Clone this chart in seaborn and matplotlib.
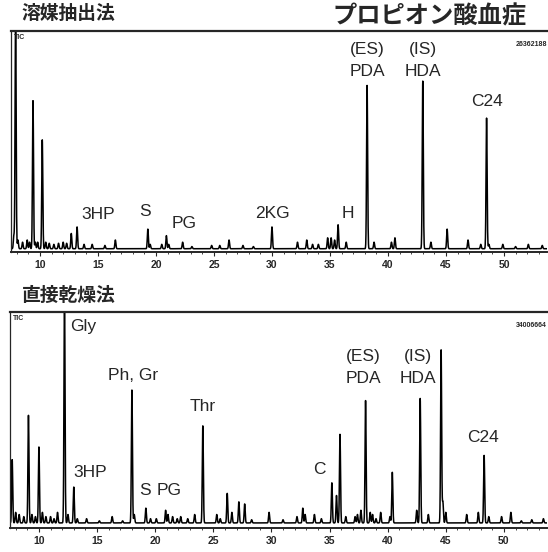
import numpy as np
import pandas as pd
import matplotlib
matplotlib.use("Agg")
import matplotlib.pyplot as plt
import seaborn as sns

# retention time (min) and peak height (% of full scale)
top_rt = [7.75, 7.9, 8.1, 8.5, 8.9, 9.1, 9.4, 9.6, 9.8, 10.2, 10.5, 10.8, 11.2, 11.6,
          12.0, 12.3, 12.7, 13.2, 13.8, 14.5, 15.6, 16.5, 19.3, 19.5, 20.5, 20.9,
          21.1, 22.3, 23.1, 24.8, 25.5, 26.3, 27.5, 28.4, 30.0, 32.2, 33.0, 33.5,
          34.0, 34.8, 35.1, 35.4, 35.7, 36.4, 38.2, 38.8, 40.3, 40.6, 43.0, 43.7,
          45.1, 46.9, 48.0, 48.5, 48.7, 49.9, 51.0, 52.1, 53.3]
top_h = [6, 110, 4, 3, 4, 3, 68, 3, 3, 50, 3, 2.5, 2, 2.5,
         3, 2.5, 7, 10, 2, 2, 1.5, 4, 9, 2, 2, 6,
         2, 3, 1, 1.5, 1.5, 4, 1.5, 1, 10, 3, 4, 2,
         2, 5, 5, 4, 11, 3, 75, 3, 3, 5, 77, 3,
         9, 4, 2, 60, 2, 2, 1, 2, 1.5]

bot_rt = [7.7, 8.0, 8.3, 8.7, 9.1, 9.4, 9.7, 10.0, 10.3, 10.6, 11.0, 11.3, 11.6, 12.2,
          12.5, 13.0, 13.3, 14.1, 15.2, 16.3, 17.2, 18.0, 18.2, 19.2, 19.6, 20.1,
          20.9, 21.1, 21.5, 21.9, 22.2, 22.8, 23.4, 24.1, 25.3, 25.6, 26.2, 26.6,
          27.2, 27.7, 28.3, 29.8, 31.0, 32.2, 32.7, 32.9, 33.7, 34.3, 35.2, 35.6,
          35.9, 36.4, 37.2, 37.4, 37.7, 38.1, 38.5, 38.7, 39.0, 39.4, 40.2, 40.4,
          42.5, 42.8, 43.5, 44.6, 44.75, 45.0, 46.8, 47.8, 48.3, 48.7, 49.8, 50.6,
          51.5, 52.4, 53.4]
bot_h = [30, 5, 4, 3, 51, 4, 3, 36, 5, 3, 3, 2, 5, 110,
         4, 17, 2, 2, 1, 3, 1, 63, 4, 7, 2, 2,
         6, 4, 3, 2, 3, 2, 4, 46, 4, 2, 14, 5,
         10, 9, 1.5, 5, 1.5, 3, 7, 4, 4, 2, 19, 13,
         42, 3, 3, 4, 6, 58, 5, 4, 2, 5, 3, 24,
         6, 59, 4, 82, 10, 5, 4, 5, 32, 3, 3, 5,
         1, 1.5, 2]

# peak labels: text, rt, height
top_labels = [("3HP", 15.0, 15.5), ("S", 19.05, 16.9), ("PG", 22.4, 11.4),
              ("2KG", 30.0, 16.4), ("H", 36.55, 16.4),
              ("(ES)", 38.2, 91.3), ("PDA", 38.2, 81.6),
              ("(IS)", 43.0, 91.3), ("HDA", 43.0, 81.6), ("C24", 48.5, 67.4)]
bot_labels = [("Gly", 13.85, 92.9), ("Ph, Gr", 18.1, 70.1), ("3HP", 14.45, 23.7),
              ("S", 19.1, 15.6), ("PG", 21.2, 15.6), ("Thr", 24.05, 55.4),
              ("C", 34.1, 25.1), ("(ES)", 37.9, 78.7), ("PDA", 37.9, 68.7),
              ("(IS)", 42.6, 78.7), ("HDA", 42.6, 68.7), ("C24", 48.2, 40.7)]

ticks = [10, 15, 20, 25, 30, 35, 40, 45, 50]


def trace(rts, hs, sigma=0.045):
    t = np.arange(7.3, 54.0, 0.01)
    y = np.zeros_like(t)
    for r, h in zip(rts, hs):
        y += h * np.exp(-0.5 * ((t - r) / sigma) ** 2)
    return pd.DataFrame({"rt": t, "abund": y})


sns.set_style("white")
plt.rcParams["font.family"] = ["Liberation Sans", "DejaVu Sans"]
jp = ["Noto Sans CJK JP", "DejaVu Sans"]

fig = plt.figure(figsize=(5.48, 5.52), dpi=100)
ax1 = fig.add_axes([0.020, 0.5435, 0.978, 0.4003])
ax2 = fig.add_axes([0.018, 0.0435, 0.980, 0.3913])


def draw(ax, rts, hs, labels, ylo, total):
    df = trace(rts, hs)
    sns.lineplot(data=df, x="rt", y="abund", ax=ax, color="black", lw=1.1,
                 estimator=None)
    ax.set_xlim(7.5, 53.7)
    ax.set_ylim(ylo, 100)
    ax.set_xticks(ticks)
    ax.set_xticks(np.arange(8, 54, 1), minor=True)
    ax.set_yticks([])
    ax.set_xlabel("")
    ax.set_ylabel("")
    ax.tick_params(axis="x", which="major", length=3, width=0.8, pad=3,
                   labelsize=7.5, direction="out", bottom=True)
    ax.tick_params(axis="x", which="minor", length=1.5, width=0.6, bottom=True)
    for lab in ax.get_xticklabels():
        lab.set_fontweight("bold")
    ax.spines["right"].set_visible(False)
    ax.spines["top"].set_linewidth(1.6)
    ax.spines["bottom"].set_linewidth(1.4)
    ax.spines["left"].set_linewidth(0.9)
    ax.spines["left"].set_linestyle((0, (6, 1)))
    for txt, x, y in labels:
        ax.text(x, y, txt, ha="center", va="center", fontsize=12.5)
    ax.text(0.006, 0.985, "TIC", transform=ax.transAxes, fontsize=5,
            fontweight="bold", ha="left", va="top")
    ax.text(1.0, 0.955, total, transform=ax.transAxes, fontsize=5,
            fontweight="bold", ha="right", va="top")


draw(ax1, top_rt, top_h, top_labels, -1.5, "26362188")
draw(ax2, bot_rt, bot_h, bot_labels, -2.4, "34006664")

fig.text(0.040, 0.975, "溶媒抽出法", family=jp, fontsize=13.5, fontweight="bold",
         ha="left", va="center")
fig.text(0.606, 0.971, "プロピオン酸血症", family=jp, fontsize=17.5, fontweight="bold",
         ha="left", va="center")
fig.text(0.040, 0.464, "直接乾燥法", family=jp, fontsize=13.5, fontweight="bold",
         ha="left", va="center")

fig.savefig("out.png", dpi=100)
